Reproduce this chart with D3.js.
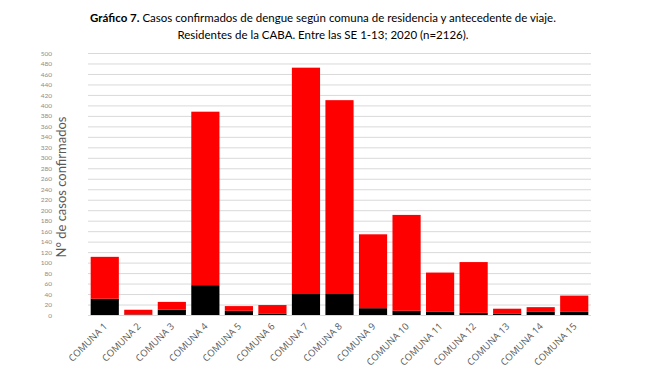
<!DOCTYPE html>
<html><head><meta charset="utf-8">
<script src="https://cdn.jsdelivr.net/npm/d3@7"></script>
<style>body{margin:0;background:#fff}svg{display:block}</style>
</head><body><svg id="c" width="656" height="369"></svg>
<script>
const categories = ["COMUNA 1","COMUNA 2","COMUNA 3","COMUNA 4","COMUNA 5","COMUNA 6","COMUNA 7","COMUNA 8","COMUNA 9","COMUNA 10","COMUNA 11","COMUNA 12","COMUNA 13","COMUNA 14","COMUNA 15"];
const conAntecedente = [31,1,10,57,8,3,40,40,13,8,6,4,3,6,6];
const sinAntecedente = [80,9,15,331,9,16,432,370,141,183,75,97,9,9,31];
const yTicks = d3.range(0,501,20);
const titleBold = "Gráfico 7.";
const titleRest = " Casos confirmados de dengue según comuna de residencia y antecedente de viaje.";
const title2 = "Residentes de la CABA. Entre las SE 1-13; 2020 (n=2126).";
const yLabel = "N° de casos confirmados";

const svg = d3.select("#c");
const m = {l:88, r:591, t:53, b:315};
const x = d3.scaleBand().domain(categories).range([m.l, m.r]).paddingInner(0.16).paddingOuter(0.08);
const y = d3.scaleLinear().domain([0,500]).range([m.b, m.t]);

// grid
svg.append("g").selectAll("line").data(yTicks).join("line")
  .attr("x1", m.l).attr("x2", m.r)
  .attr("y1", d=>y(d)+0.5).attr("y2", d=>y(d)+0.5)
  .attr("stroke", "#d9d9d9").attr("stroke-width", 1);

// y axis labels
const ya = svg.append("g").attr("transform", `translate(${m.l-36},0)`)
  .call(d3.axisLeft(y).tickValues(yTicks).tickSize(0).tickPadding(0));
ya.select(".domain").remove();
ya.selectAll("text").attr("font-family","Lato, sans-serif").attr("font-size","6.5px").attr("fill","#8c8c8c");

const stack = d3.stack().keys(["con","sin"])(categories.map((c,i)=>({cat:c, con:conAntecedente[i], sin:sinAntecedente[i]})));
const colors = {con:"#000000", sin:"#ff0000"};
svg.append("g").selectAll("g").data(stack).join("g")
  .attr("fill", d=>colors[d.key])
  .selectAll("rect").data(d=>d).join("rect")
  .attr("x", d=>x(d.data.cat)).attr("width", x.bandwidth())
  .attr("y", d=>y(d[1])).attr("height", d=>y(d[0])-y(d[1]));

// x labels
const xa = svg.append("g").attr("transform", `translate(3,${m.b+12})`)
  .call(d3.axisBottom(x).tickSize(0).tickPadding(0));
xa.select(".domain").remove();
xa.selectAll("text")
  .attr("font-family","'Open Sans', sans-serif").attr("font-size","9.5px").attr("fill","#595959")
  .attr("text-anchor","end").attr("dy","0").attr("dx","0")
  .attr("transform","rotate(-45)");

// y title
svg.append("text").attr("transform","translate(66,187) rotate(-90)")
  .attr("text-anchor","middle").attr("font-family","Lato, sans-serif").attr("font-size","13px")
  .attr("fill","#595959").text(yLabel);

// title
const t1 = svg.append("text").attr("x",323).attr("y",22).attr("text-anchor","middle")
  .attr("font-family","Lato, sans-serif").attr("font-size","11.5px").attr("fill","#000");
t1.append("tspan").attr("font-weight","bold").text(titleBold);
t1.append("tspan").text(titleRest);
svg.append("text").attr("x",323).attr("y",39).attr("text-anchor","middle")
  .attr("font-family","Lato, sans-serif").attr("font-size","11.5px").attr("fill","#000").text(title2);
</script></body></html>
